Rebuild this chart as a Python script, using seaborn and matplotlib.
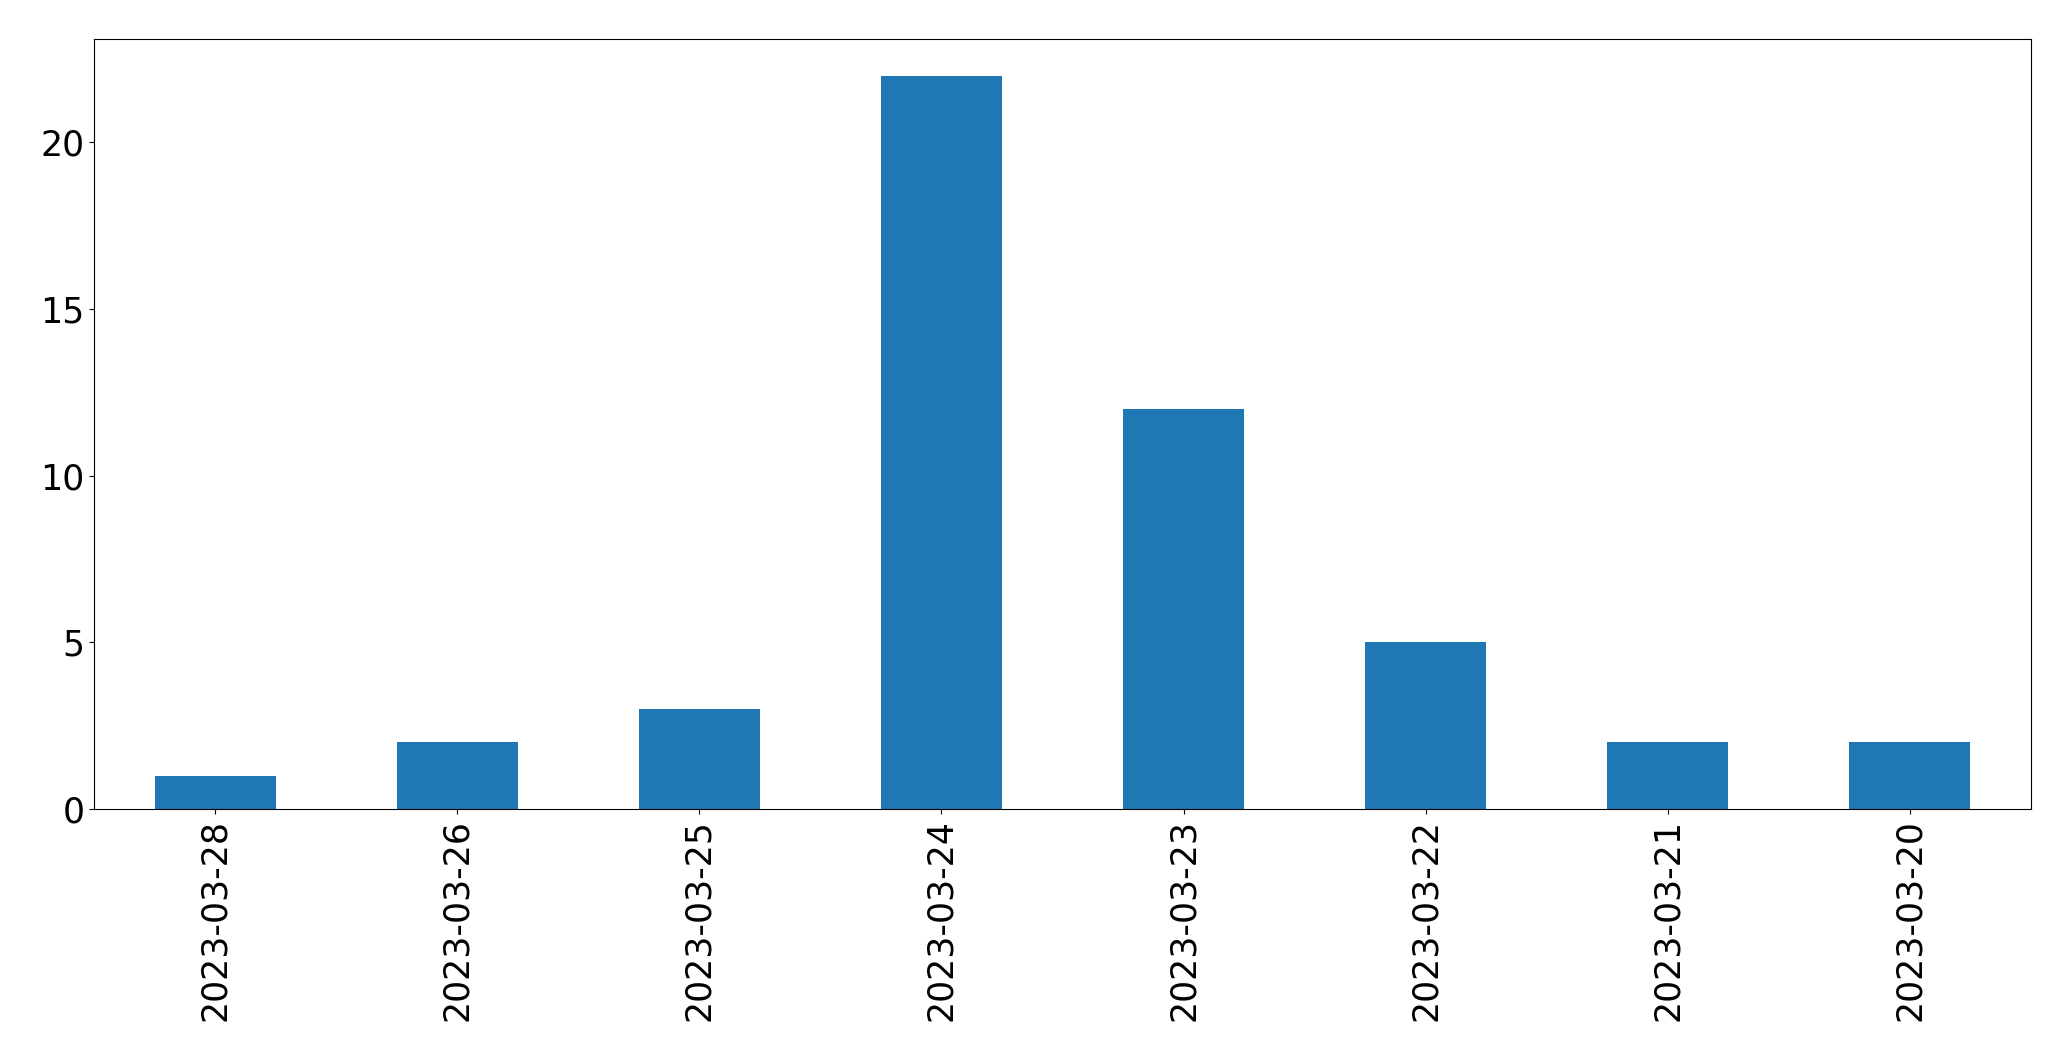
import matplotlib
matplotlib.use("Agg")
import matplotlib.pyplot as plt
import seaborn as sns
import pandas as pd

dates = ["2023-03-28", "2023-03-26", "2023-03-25", "2023-03-24",
         "2023-03-23", "2023-03-22", "2023-03-21", "2023-03-20"]
counts = [1, 2, 3, 22, 12, 5, 2, 2]

df = pd.DataFrame({"date": dates, "count": counts})

fig = plt.figure(figsize=(20.71, 10.61), dpi=100)
ax = fig.add_axes([94/2071, 1 - 809/1061, (2031-94)/2071, (809-39)/1061])
sns.barplot(data=df, x="date", y="count", order=dates, color="#1f77b4",
            saturation=1, width=0.5, linewidth=0, ax=ax)
ax.set_xlim(-0.5, len(dates) - 0.5)
ax.set_ylim(0, 23.1)
ax.set_yticks([0, 5, 10, 15, 20])
ax.set_xlabel("")
ax.set_ylabel("")
ax.tick_params(axis="both", labelsize=25)
ax.tick_params(axis="x", labelrotation=90)
fig.savefig("out.png", dpi=100)
